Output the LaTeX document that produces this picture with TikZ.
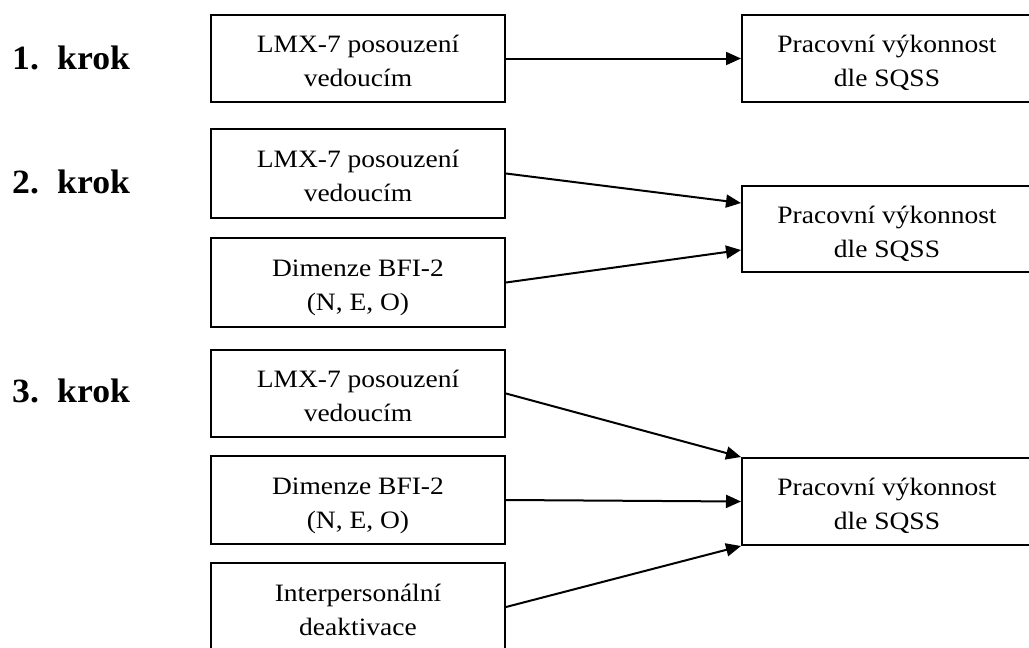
\documentclass[tikz,border=0pt]{standalone}
\usepackage{fontspec}
\setmainfont{Liberation Serif}
\newfontfamily\boxfont[FakeStretch=1.1]{Liberation Serif}
\newfontfamily\labfont[FakeStretch=1.05]{Liberation Serif}
\newcommand\myTop{\rule{0pt}{28pt}}
\newcommand\myBot{\rule[-6pt]{0pt}{6pt}}
\usetikzlibrary{arrows.meta,calc}
\begin{document}
\begin{tikzpicture}[x=1pt,y=-1pt,
  box/.style={draw,line width=2pt,minimum width=294pt,minimum height=88pt,inner sep=0pt,align=center,font=\boxfont\fontsize{25}{34}\selectfont},
  rbox/.style={box,minimum width=290pt},
  steplabel/.style={anchor=base west,font=\labfont\fontsize{34}{40}\selectfont\bfseries,inner sep=0pt},
  conn/.style={line width=2pt,-{Triangle[length=15pt,width=13pt]}}]
\useasboundingbox (0,0) rectangle (1029,648);
\clip (0,0) rectangle (1029,648);

% step labels
\node[steplabel] (s1) at (12,69) {\makebox[45pt][l]{1.}krok};
\node[steplabel] (s2) at (12,193) {\makebox[45pt][l]{2.}krok};
\node[steplabel] (s3) at (12,402) {\makebox[45pt][l]{3.}krok};

% step 1
\node[box,minimum height=87pt] (L1) at (358,58.5) {\myTop LMX-7 posouzení\\vedoucím\myBot};
\node[rbox,minimum height=87pt] (R1) at (887,58.5) {\myTop Pracovní výkonnost\\dle SQSS\myBot};

% step 2
\node[box,minimum height=89pt] (L2) at (358,173.5) {\myTop LMX-7 posouzení\\vedoucím\myBot};
\node[box,minimum height=89pt] (L3) at (358,282.5) {\myTop Dimenze BFI-2\\(N, E, O)\myBot};
\node[rbox,minimum height=86pt] (R2) at (887,229) {\myTop Pracovní výkonnost\\dle SQSS\myBot};

% step 3
\node[box,minimum height=87pt] (L4) at (358,393.5) {\myTop LMX-7 posouzení\\vedoucím\myBot};
\node[box,minimum height=88pt] (L5) at (358,500) {\myTop Dimenze BFI-2\\(N, E, O)\myBot};
\node[box,minimum height=88pt] (L6) at (358,607) {\myTop Interpersonální\\deaktivace\myBot};
\node[rbox,minimum height=87pt] (R3) at (887,501.5) {\myTop Pracovní výkonnost\\dle SQSS\myBot};

% connectors
\draw[conn] (L1.east) -- (R1.west);
\draw[conn] (L2.east) -- ($(R2.west)+(0,-26)$);
\draw[conn] (L3.east) -- ($(R2.west)+(0,21)$);
\draw[conn] (L4.east) -- (R3.north west);
\draw[conn] (L5.east) -- (R3.west);
\draw[conn] (L6.east) -- (R3.south west);
\end{tikzpicture}
\end{document}
